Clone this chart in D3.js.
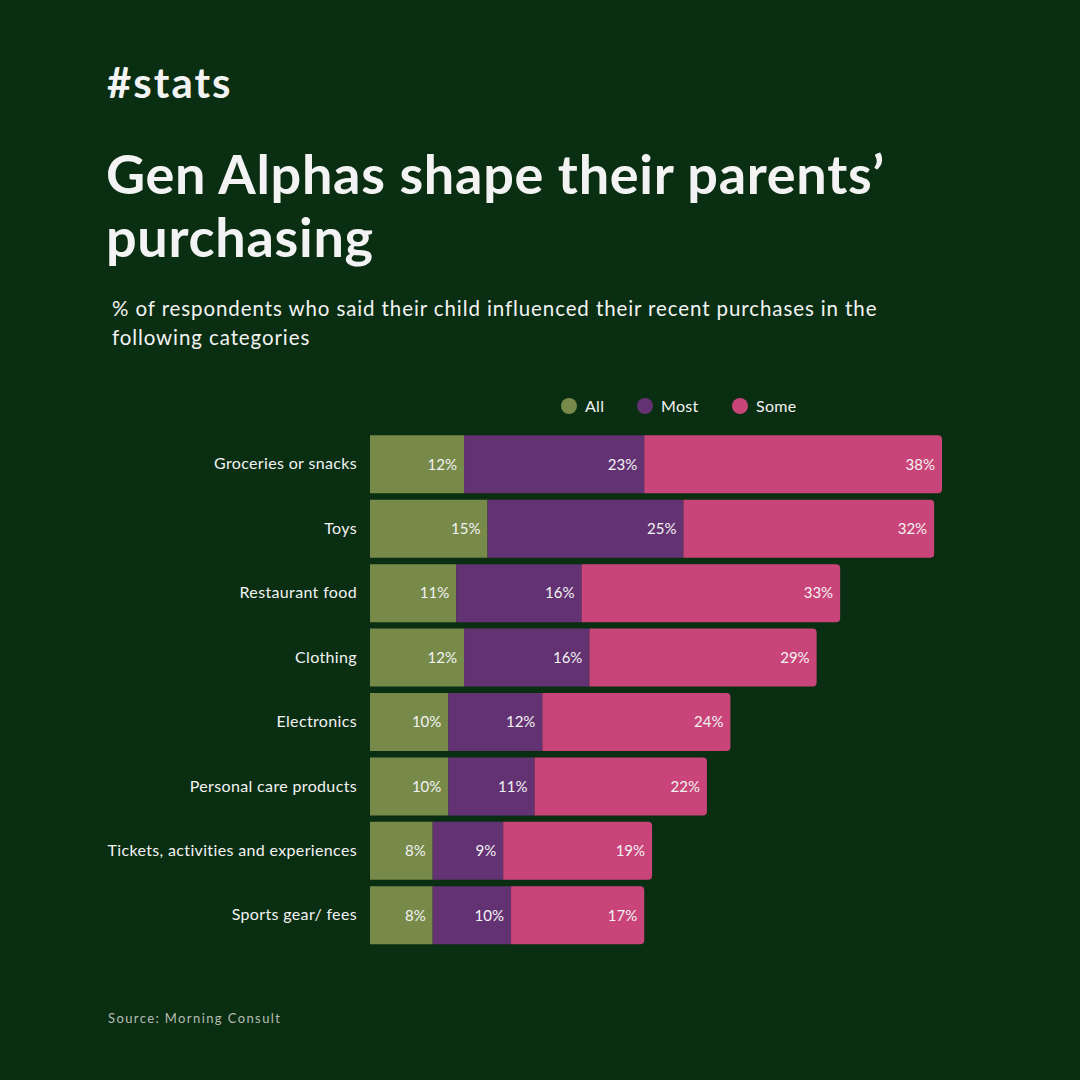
<!DOCTYPE html>
<html>
<head>
<meta charset="utf-8">
<script src="https://cdn.jsdelivr.net/npm/d3@7.9.0/dist/d3.min.js"></script>
<style>
  html, body { margin: 0; padding: 0; background: #0a2e12; }
  svg { display: block; }
</style>
</head>
<body>
<svg id="chart" width="1080" height="1080"></svg>
<script>
// data
const categories = [
  "Groceries or snacks",
  "Toys",
  "Restaurant food",
  "Clothing",
  "Electronics",
  "Personal care products",
  "Tickets, activities and experiences",
  "Sports gear/ fees"
];
const seriesNames = ["All", "Most", "Some"];
const allValues  = [12, 15, 11, 12, 10, 10, 8, 8];
const mostValues = [23, 25, 16, 16, 12, 11, 9, 10];
const someValues = [38, 32, 33, 29, 24, 22, 19, 17];
const seriesColors = ["#778a4a", "#633273", "#c94478"];

const font = "Lato, 'Open Sans', sans-serif";
const textColor = "#f3f3f3";

const svg = d3.select("#chart");

// build table for the stack
const table = categories.map((c, i) => ({
  category: c, All: allValues[i], Most: mostValues[i], Some: someValues[i]
}));
const stacked = d3.stack().keys(seriesNames)(table);

const x = d3.scaleLinear().domain([0, 73]).range([370, 942]);
const y = d3.scaleBand()
  .domain(categories)
  .range([432.1, 947.5])
  .paddingInner(0.1)
  .paddingOuter(0.05);
const color = d3.scaleOrdinal().domain(seriesNames).range(seriesColors);

// headings
svg.append("text")
  .attr("x", 107).attr("y", 98)
  .attr("font-family", font).attr("font-weight", 700)
  .attr("font-size", 42).attr("fill", textColor)
  .attr("letter-spacing", 2)
  .text("#stats");

const title = svg.append("text")
  .attr("font-family", font).attr("font-weight", 700)
  .attr("font-size", 54).attr("fill", textColor)
  .attr("letter-spacing", 0.7);
title.append("tspan").attr("x", 106).attr("y", 194).text("Gen Alphas shape their parents’");
title.append("tspan").attr("x", 106).attr("y", 257).text("purchasing");

const sub = svg.append("text")
  .attr("font-family", font).attr("font-weight", 400)
  .attr("font-size", 20.5).attr("fill", textColor)
  .attr("letter-spacing", 0.9);
sub.append("tspan").attr("x", 112).attr("y", 316)
  .text("% of respondents who said their child influenced their recent purchases in the");
sub.append("tspan").attr("x", 112).attr("y", 345).text("following categories");

// legend
const legendX = [569, 645, 740];
const legend = svg.append("g").selectAll("g")
  .data(seriesNames).join("g")
  .attr("transform", (d, i) => `translate(${legendX[i]},406)`);
legend.append("circle").attr("r", 8).attr("fill", d => color(d));
legend.append("text")
  .attr("x", 16).attr("dy", "0.35em")
  .attr("font-family", font).attr("font-size", 16).attr("fill", textColor)
  .attr("letter-spacing", 0.3)
  .text(d => d);

// rect with rounded right corners
function barPath(x0, x1, y0, h, r) {
  return `M${x0},${y0}H${x1 - r}Q${x1},${y0} ${x1},${y0 + r}` +
    `V${y0 + h - r}Q${x1},${y0 + h} ${x1 - r},${y0 + h}H${x0}Z`;
}

const layers = svg.append("g").selectAll("g")
  .data(stacked).join("g")
  .attr("fill", d => color(d.key));

layers.selectAll("path")
  .data(d => d.map(p => ({ p, key: d.key })))
  .join("path")
  .attr("d", d => {
    const x0 = x(d.p[0]), x1 = x(d.p[1]);
    const y0 = y(d.p.data.category), h = y.bandwidth();
    const r = d.key === "Some" ? 4 : 0;
    return barPath(x0, x1, y0, h, r);
  });

// value labels
layers.selectAll("text")
  .data(d => d.map(p => ({ p, key: d.key })))
  .join("text")
  .attr("x", d => x(d.p[1]) - 7)
  .attr("y", d => y(d.p.data.category) + y.bandwidth() / 2)
  .attr("dy", "0.35em")
  .attr("text-anchor", "end")
  .attr("font-family", font).attr("font-size", 15)
  .attr("fill", textColor)
  .text(d => (d.p[1] - d.p[0]) + "%");

// category axis
const yAxis = svg.append("g")
  .attr("transform", "translate(370,0)")
  .call(d3.axisLeft(y).tickSize(0).tickPadding(13));
yAxis.select(".domain").remove();
yAxis.selectAll("text")
  .attr("font-family", font).attr("font-size", 16)
  .attr("letter-spacing", 0.35)
  .attr("fill", textColor);

// source
svg.append("text")
  .attr("x", 108).attr("y", 1023)
  .attr("font-family", font).attr("font-size", 13)
  .attr("letter-spacing", 1.4).attr("fill", "#b7bdb4")
  .text("Source: Morning Consult");
</script>
</body>
</html>
